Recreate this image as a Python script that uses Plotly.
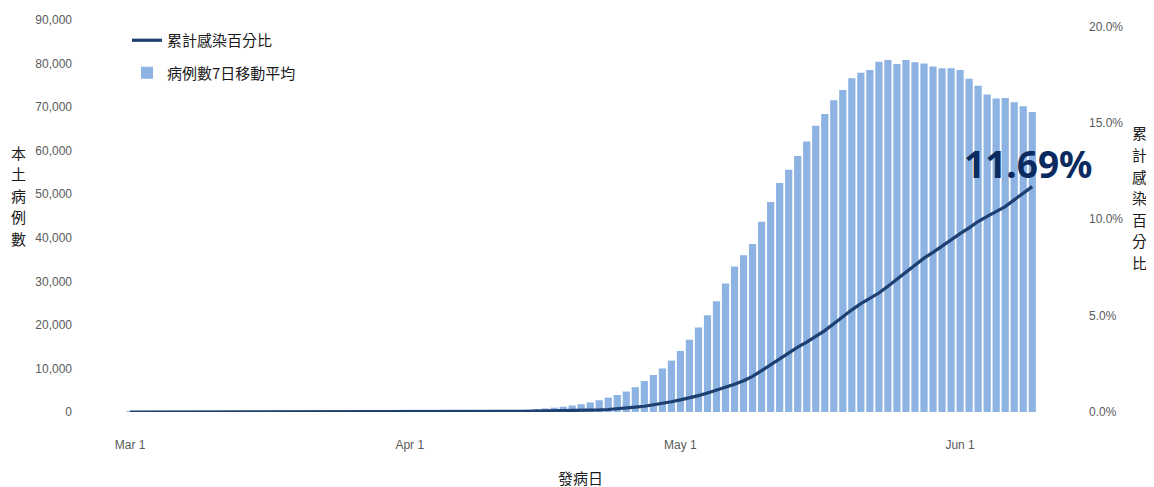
import pandas as pd
import plotly.graph_objects as go

# ---- data ----
start_date = "2022-03-01"
n_days = 101
dates = pd.date_range(start_date, periods=n_days, freq="D")

cases_7day_avg = [
    # Mar 1 - Mar 31
    5, 5, 6, 6, 7, 7, 8, 8, 9, 10, 10, 11, 12, 12, 13, 14, 15, 16, 18, 20,
    22, 24, 26, 28, 30, 33, 36, 40, 44, 48, 53,
    # Apr 1 - Apr 10
    60, 68, 78, 88, 100, 115, 130, 150, 170, 195,
    # Apr 11 - Apr 30
    230, 300, 400, 520, 680, 820, 1000, 1200, 1500, 1800,
    2200, 2700, 3300, 3900, 4700, 5700, 7100, 8500, 10000, 11800,
    # May 1 - May 31
    14000, 16600, 19400, 22200, 25400, 29500, 33400, 36000, 38600, 43700,
    48200, 52600, 55600, 58800, 62100, 65700, 68400, 71600, 73900, 76600,
    77900, 78500, 80400, 80800, 79900, 80800, 80300, 80000, 79300, 78900,
    78900,
    # Jun 1 - Jun 9
    78500, 76500, 74900, 72900, 72000, 72100, 71100, 70200, 68900,
]

cumulative_pct = [
    # Mar 1 - Mar 31
    0.000, 0.000, 0.000, 0.000, 0.000, 0.000, 0.000, 0.000, 0.000, 0.000,
    0.001, 0.001, 0.001, 0.001, 0.001, 0.001, 0.001, 0.001, 0.001, 0.002,
    0.002, 0.002, 0.002, 0.002, 0.003, 0.003, 0.003, 0.003, 0.004, 0.004,
    0.004,
    # Apr 1 - Apr 30
    0.005, 0.006, 0.007, 0.008, 0.010, 0.011, 0.013, 0.016, 0.020, 0.024,
    0.028, 0.032, 0.036, 0.040, 0.045, 0.050, 0.055, 0.060, 0.066, 0.075,
    0.09, 0.11, 0.13, 0.16, 0.20, 0.25, 0.30, 0.37, 0.45, 0.53,
    # May 1 - May 31
    0.63, 0.73, 0.85, 0.99, 1.13, 1.28, 1.44, 1.62, 1.85, 2.15,
    2.45, 2.78, 3.08, 3.36, 3.62, 3.90, 4.22, 4.58, 4.95, 5.30,
    5.62, 5.88, 6.17, 6.52, 6.88, 7.22, 7.62, 7.98, 8.28, 8.62,
    8.95,
    # Jun 1 - Jun 9
    9.25, 9.55, 9.88, 10.15, 10.38, 10.65, 11.00, 11.35, 11.69,
]

line_name = "累計感染百分比"
bar_name = "病例數7日移動平均"
y_left_title = "本土病例數"
y_right_title = "累計感染百分比"
x_title = "發病日"

# ---- styles ----
BAR_COLOR = "#8db3e2"
LINE_COLOR = "#1d3f71"
LABEL_COLOR = "#0b2a60"
TICK_COLOR = "#5a5a5a"
TICK_FONT = "Liberation Sans Narrow, Liberation Sans, Arial, sans-serif"
CJK_FONT = "Noto Sans CJK TC, Noto Sans CJK SC, sans-serif"

# page body has an 8px margin -> figure is sized/offset to compensate
OFF = 8
W, H = 1154 - OFF, 487 - OFF
L, R, T, B = 85 - OFF, 74, 20 - OFF, 75
pw, ph = W - L - R, H - T - B


def to_paper(px, py):
    """window pixel -> paper coordinates"""
    return (px - OFF - L) / pw, (H - B - (py - OFF)) / ph


fig = go.Figure()
fig.add_trace(go.Scatter(
    x=dates, y=cumulative_pct, name=line_name, yaxis="y2",
    mode="lines", line=dict(color=LINE_COLOR, width=3.2),
    legendgroup="a",
))
fig.add_trace(go.Bar(
    x=dates, y=cases_7day_avg, name=bar_name,
    marker=dict(color=BAR_COLOR, line=dict(width=0)),
    legendgroup="b",
))

annotations = [
    dict(
        x=dates[-1], y=cumulative_pct[-1], xref="x", yref="y2",
        text=f"<b>{cumulative_pct[-1]:.2f}%</b>", showarrow=False,
        xanchor="center", yanchor="middle", xshift=-4, yshift=23,
        font=dict(family="Noto Sans, Open Sans, sans-serif", size=37, color=LABEL_COLOR),
    ),
]
# vertical (stacked) axis titles, one character per annotation
for title, px, py0, size in [(y_left_title, 18, 152, 15), (y_right_title, 1139, 133, 15)]:
    for i, ch in enumerate(title):
        ax, ay = to_paper(px, py0 + i * 21.5)
        annotations.append(dict(
            x=ax, y=ay, xref="paper", yref="paper", text=ch, showarrow=False,
            xanchor="center", yanchor="middle", borderpad=0,
            font=dict(family=CJK_FONT, size=size, color="#1a1a1a"),
        ))
ax, ay = to_paper(580, 477)
annotations.append(dict(
    x=ax, y=ay, xref="paper", yref="paper", text=x_title, showarrow=False,
    xanchor="center", yanchor="middle",
    font=dict(family=CJK_FONT, size=15, color="#1a1a1a"),
))

leg_x, leg_y = to_paper(127, 24)

fig.update_layout(
    width=W, height=H,
    margin=dict(l=L, r=R, t=T, b=B, pad=0, autoexpand=False),
    paper_bgcolor="white", plot_bgcolor="white",
    bargap=0.2,
    showlegend=True,
    legend=dict(
        x=leg_x, y=leg_y, xanchor="left", yanchor="top",
        font=dict(family=CJK_FONT, size=15, color="#1a1a1a"),
        bgcolor="rgba(0,0,0,0)", itemwidth=30,
        traceorder="grouped", tracegroupgap=10,
    ),
    xaxis=dict(
        type="date", automargin=False,
        range=["2022-02-24 00:00", "2022-06-14 07:00"],
        tickvals=["2022-03-01", "2022-04-01", "2022-05-01", "2022-06-01"],
        tickformat="%b %-d",
        showgrid=False, zeroline=False, showline=False,
        ticks="", ticklabelstandoff=24,
        tickfont=dict(family=TICK_FONT, size=12, color=TICK_COLOR),
    ),
    yaxis=dict(
        automargin=False,
        range=[0, 90000], dtick=10000, tickformat=",",
        showgrid=False, zeroline=False, showline=False,
        ticks="", ticklabelstandoff=12,
        tickfont=dict(family=TICK_FONT, size=12, color=TICK_COLOR),
    ),
    yaxis2=dict(
        overlaying="y", side="right", automargin=False,
        range=[0, 20.33], dtick=5, tickformat=".1f", ticksuffix="%",
        showgrid=False, zeroline=False, showline=False,
        ticks="", ticklabelstandoff=8,
        tickfont=dict(family=TICK_FONT, size=12, color=TICK_COLOR),
    ),
    annotations=annotations,
)

fig.write_html("out.html")
